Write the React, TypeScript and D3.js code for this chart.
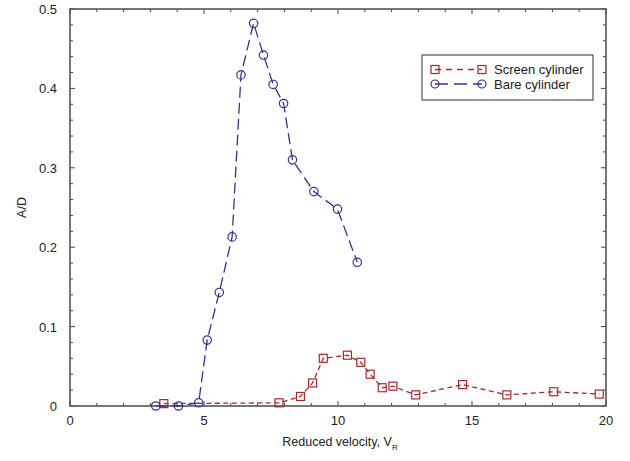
import React, { useEffect, useRef } from 'react';
import * as d3 from 'd3';

// Screen cylinder (red squares)
const screenV = [3.5, 7.8, 8.6, 9.05, 9.45, 10.35, 10.85, 11.2, 11.65, 12.05, 12.9, 14.65, 16.3, 18.05, 19.75];
const screenAD = [0.003, 0.004, 0.012, 0.029, 0.060, 0.064, 0.055, 0.040, 0.023, 0.025, 0.014, 0.027, 0.014, 0.018, 0.015];

// Bare cylinder (blue circles)
const bareV = [3.2, 4.05, 4.8, 5.12, 5.57, 6.05, 6.38, 6.85, 7.22, 7.58, 7.97, 8.3, 9.1, 9.98, 10.72];
const bareAD = [0.0, 0.0, 0.004, 0.083, 0.143, 0.213, 0.417, 0.482, 0.442, 0.405, 0.381, 0.310, 0.270, 0.248, 0.181];

const xTicks = [0, 5, 10, 15, 20];
const yTicks = [0, 0.1, 0.2, 0.3, 0.4, 0.5];

const RED = '#a8282c';
const BLUE = '#2f3396';
const FONT = 'Liberation Sans, Arial, sans-serif';

const App = () => {
  const ref = useRef<SVGSVGElement>(null);

  useEffect(() => {
    const svg = d3.select(ref.current);
    svg.selectAll('*').remove();

    const left = 70, right = 606, top = 9, bottom = 406;
    const x = d3.scaleLinear().domain([0, 20]).range([left, right]);
    const y = d3.scaleLinear().domain([0, 0.5]).range([bottom, top]);

    svg.append('rect').attr('width', 630).attr('height', 461).attr('fill', '#fff');

    // minor/major ticks (inward) on all four sides
    const frame = svg.append('g').attr('stroke', '#444').attr('stroke-width', 1);
    d3.range(0, 21, 1).forEach((v) => {
      const len = v % 5 === 0 ? 5 : 3;
      frame.append('line').attr('x1', x(v)).attr('x2', x(v)).attr('y1', bottom).attr('y2', bottom - len);
      frame.append('line').attr('x1', x(v)).attr('x2', x(v)).attr('y1', top).attr('y2', top + len);
    });
    d3.range(0, 26, 1).forEach((i) => {
      const v = i * 0.02;
      const len = i % 5 === 0 ? 5 : 3;
      frame.append('line').attr('y1', y(v)).attr('y2', y(v)).attr('x1', left).attr('x2', left + len);
      frame.append('line').attr('y1', y(v)).attr('y2', y(v)).attr('x1', right).attr('x2', right - len);
    });

    svg.append('rect')
      .attr('x', left).attr('y', top)
      .attr('width', right - left).attr('height', bottom - top)
      .attr('fill', 'none').attr('stroke', '#555').attr('stroke-width', 1.6);

    // tick labels
    svg.append('g').selectAll('text').data(xTicks).join('text')
      .attr('x', (d) => x(d)).attr('y', bottom + 19)
      .attr('text-anchor', 'middle')
      .style('font-family', FONT).style('font-size', '13px').attr('fill', '#222')
      .text((d) => d);
    svg.append('g').selectAll('text').data(yTicks).join('text')
      .attr('x', left - 13).attr('y', (d) => y(d) + 5)
      .attr('text-anchor', 'end')
      .style('font-family', FONT).style('font-size', '13px').attr('fill', '#222')
      .text((d) => (d === 0 ? '0' : d3.format('.1f')(d)));

    // axis titles
    const xl = svg.append('text')
      .attr('x', 340).attr('y', 446)
      .attr('text-anchor', 'middle')
      .style('font-family', FONT).style('font-size', '12.5px').attr('fill', '#222');
    xl.append('tspan').text('Reduced velocity, V');
    xl.append('tspan').attr('dy', 4).style('font-size', '8px').text('R');

    svg.append('text')
      .attr('transform', `translate(26,${(top + bottom) / 2}) rotate(-90)`)
      .attr('text-anchor', 'middle')
      .style('font-family', FONT).style('font-size', '12.5px').attr('fill', '#222')
      .text('A/D');

    const line = d3.line<[number, number]>().x((d) => x(d[0])).y((d) => y(d[1]));
    const screen: [number, number][] = screenV.map((v, i) => [v, screenAD[i]]);
    const bare: [number, number][] = bareV.map((v, i) => [v, bareAD[i]]);

    svg.append('path').datum(screen).attr('d', line)
      .attr('fill', 'none').attr('stroke', RED).attr('stroke-width', 1.3)
      .attr('stroke-dasharray', '5,3.5');
    svg.append('path').datum(bare).attr('d', line)
      .attr('fill', 'none').attr('stroke', BLUE).attr('stroke-width', 1.3)
      .attr('stroke-dasharray', '11,5');

    svg.append('g').selectAll('rect').data(screen).join('rect')
      .attr('x', (d) => x(d[0]) - 4).attr('y', (d) => y(d[1]) - 4)
      .attr('width', 8).attr('height', 8)
      .attr('fill', 'none').attr('stroke', RED).attr('stroke-width', 1.2);
    svg.append('g').selectAll('circle').data(bare).join('circle')
      .attr('cx', (d) => x(d[0])).attr('cy', (d) => y(d[1]))
      .attr('r', 4.2)
      .attr('fill', 'none').attr('stroke', BLUE).attr('stroke-width', 1.2);

    // legend
    const lg = svg.append('g');
    lg.append('rect').attr('x', 422).attr('y', 55).attr('width', 171).attr('height', 45)
      .attr('fill', '#fff').attr('stroke', '#333').attr('stroke-width', 1);
    const items = [
      { name: 'Screen cylinder', color: RED, dash: '6,5', shape: 'square', yy: 69.5 },
      { name: 'Bare cylinder', color: BLUE, dash: '13,6', shape: 'circle', yy: 84 },
    ];
    items.forEach((it) => {
      lg.append('line').attr('x1', 435).attr('x2', 482).attr('y1', it.yy).attr('y2', it.yy)
        .attr('stroke', it.color).attr('stroke-width', 1.3).attr('stroke-dasharray', it.dash);
      [435, 482].forEach((cx) => {
        if (it.shape === 'square') {
          lg.append('rect').attr('x', cx - 4).attr('y', it.yy - 4).attr('width', 8).attr('height', 8)
            .attr('fill', 'none').attr('stroke', it.color).attr('stroke-width', 1.2);
        } else {
          lg.append('circle').attr('cx', cx).attr('cy', it.yy).attr('r', 4)
            .attr('fill', 'none').attr('stroke', it.color).attr('stroke-width', 1.2);
        }
      });
      lg.append('text').attr('x', 494).attr('y', it.yy + 4.5)
        .style('font-family', FONT).style('font-size', '13px').attr('fill', '#222')
        .text(it.name);
    });
  }, []);

  return <svg ref={ref} width={630} height={461} style={{ display: 'block', position: 'absolute', left: 0, top: 0 }} />;
};

export default App;
